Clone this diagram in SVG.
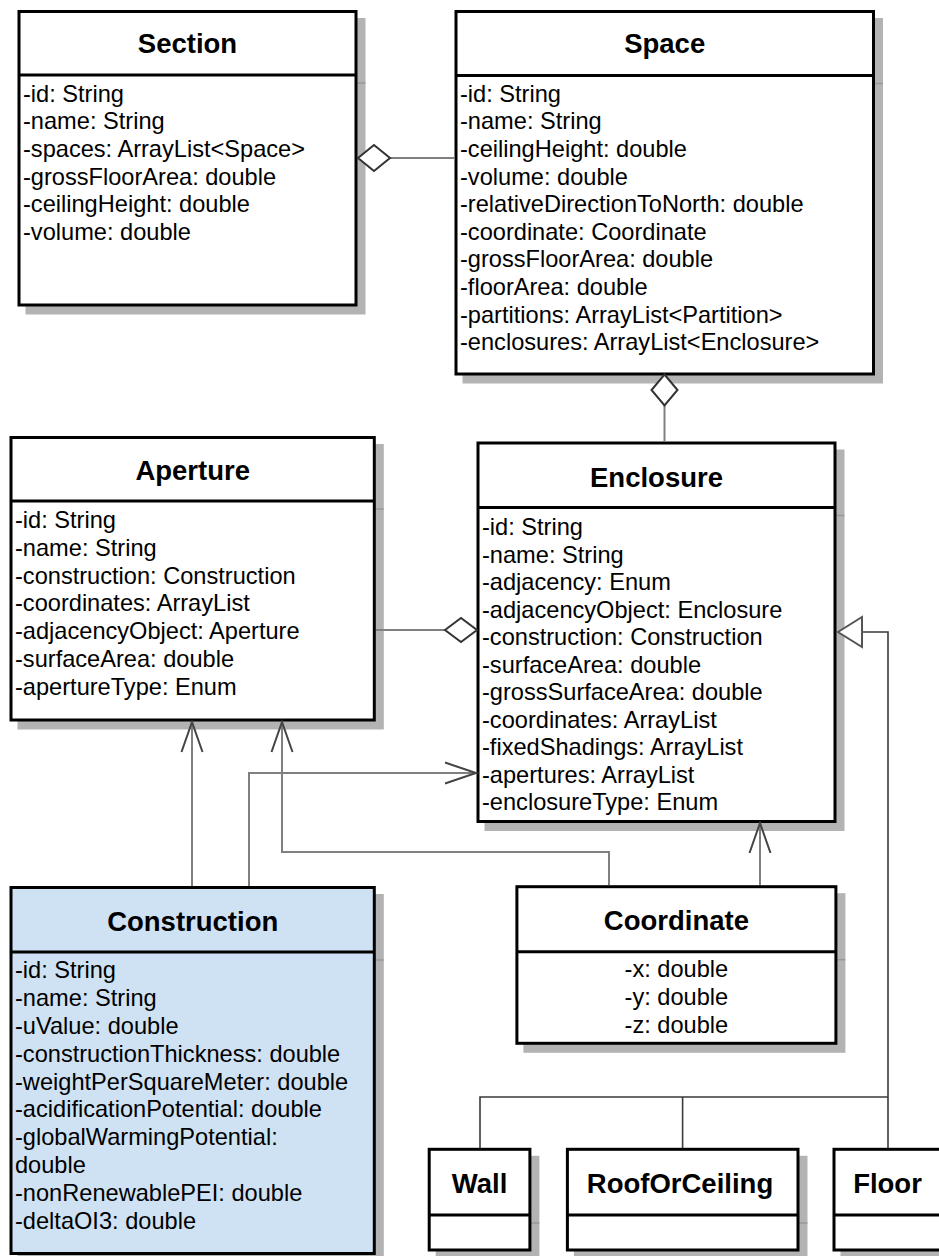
<svg xmlns="http://www.w3.org/2000/svg" width="939" height="1256" viewBox="0 0 939 1256">
  <style>
    .shadow { fill: #b3b3b3; stroke: #b3b3b3; stroke-width: 3; }
    .shline { stroke: #999999; stroke-width: 1.5; }
    .box { fill: #ffffff; stroke: #000000; stroke-width: 3; }
    .blue { fill: #cfe2f3; }
    .div { stroke: #000000; stroke-width: 3; }
    .title { font-family: "Liberation Sans", Arial, sans-serif; font-weight: bold; font-size: 27.5px; text-anchor: middle; fill: #000; }
    .attr { font-family: "Liberation Sans", Arial, sans-serif; font-size: 23.6px; fill: #000; }
    .mid { text-anchor: middle; }
    .conn { fill: none; stroke: #808080; stroke-width: 2; }
    .gen { fill: none; stroke: #3a3a3a; stroke-width: 1.6; }
    .head { fill: none; stroke: #444444; stroke-width: 2; }
    .diamond { fill: #ffffff; stroke: #333333; stroke-width: 2; }
    .tri { fill: #ffffff; stroke: #555555; stroke-width: 2; }
  </style>

  <!-- Section -->
  <g id="section">
    <rect class="shadow" x="27" y="19.5" width="337" height="293.5"/>
    <line class="shline" x1="356" y1="83" x2="365.5" y2="83"/>
    <rect class="box" x="19" y="11.5" width="337" height="293.5"/>
    <line class="div" x1="19" y1="75" x2="356" y2="75"/>
    <text class="title" x="187.5" y="53.3">Section</text>
    <text class="attr" x="23" y="101.5">-id: String</text>
    <text class="attr" x="23" y="129.2">-name: String</text>
    <text class="attr" x="23" y="156.9">-spaces: ArrayList&lt;Space&gt;</text>
    <text class="attr" x="23" y="184.6">-grossFloorArea: double</text>
    <text class="attr" x="23" y="212.3">-ceilingHeight: double</text>
    <text class="attr" x="23" y="240">-volume: double</text>
  </g>

  <!-- Space -->
  <g id="space">
    <rect class="shadow" x="464" y="19.5" width="417.5" height="362.5"/>
    <line class="shline" x1="873.5" y1="83.5" x2="883" y2="83.5"/>
    <rect class="box" x="456" y="11.5" width="417.5" height="362.5"/>
    <line class="div" x1="456" y1="75.5" x2="873.5" y2="75.5"/>
    <text class="title" x="664.7" y="53.3">Space</text>
    <text class="attr" x="460" y="101.7">-id: String</text>
    <text class="attr" x="460" y="129.3">-name: String</text>
    <text class="attr" x="460" y="156.9">-ceilingHeight: double</text>
    <text class="attr" x="460" y="184.5">-volume: double</text>
    <text class="attr" x="460" y="212.1">-relativeDirectionToNorth: double</text>
    <text class="attr" x="460" y="239.7">-coordinate: Coordinate</text>
    <text class="attr" x="460" y="267.3">-grossFloorArea: double</text>
    <text class="attr" x="460" y="294.9">-floorArea: double</text>
    <text class="attr" x="460" y="322.5">-partitions: ArrayList&lt;Partition&gt;</text>
    <text class="attr" x="460" y="350.1">-enclosures: ArrayList&lt;Enclosure&gt;</text>
  </g>

  <!-- Aperture -->
  <g id="aperture">
    <rect class="shadow" x="19" y="445.5" width="363.3" height="282.5"/>
    <line class="shline" x1="374.3" y1="509" x2="383.8" y2="509"/>
    <rect class="box" x="11" y="437.5" width="363.3" height="282.5"/>
    <line class="div" x1="11" y1="501" x2="374.3" y2="501"/>
    <text class="title" x="192.7" y="480">Aperture</text>
    <text class="attr" x="15" y="528.3">-id: String</text>
    <text class="attr" x="15" y="556">-name: String</text>
    <text class="attr" x="15" y="583.7">-construction: Construction</text>
    <text class="attr" x="15" y="611.4">-coordinates: ArrayList</text>
    <text class="attr" x="15" y="639.1">-adjacencyObject: Aperture</text>
    <text class="attr" x="15" y="666.8">-surfaceArea: double</text>
    <text class="attr" x="15" y="694.5">-apertureType: Enum</text>
  </g>

  <!-- Enclosure -->
  <g id="enclosure">
    <rect class="shadow" x="486" y="451" width="357" height="378.5"/>
    <line class="shline" x1="835" y1="515.5" x2="844.5" y2="515.5"/>
    <rect class="box" x="478" y="443" width="357" height="378.5"/>
    <line class="div" x1="478" y1="507.5" x2="835" y2="507.5"/>
    <text class="title" x="656.5" y="486.7">Enclosure</text>
    <text class="attr" x="482" y="535">-id: String</text>
    <text class="attr" x="482" y="562.5">-name: String</text>
    <text class="attr" x="482" y="590">-adjacency: Enum</text>
    <text class="attr" x="482" y="617.5">-adjacencyObject: Enclosure</text>
    <text class="attr" x="482" y="645">-construction: Construction</text>
    <text class="attr" x="482" y="672.5">-surfaceArea: double</text>
    <text class="attr" x="482" y="700">-grossSurfaceArea: double</text>
    <text class="attr" x="482" y="727.5">-coordinates: ArrayList</text>
    <text class="attr" x="482" y="755">-fixedShadings: ArrayList</text>
    <text class="attr" x="482" y="782.5">-apertures: ArrayList</text>
    <text class="attr" x="482" y="810">-enclosureType: Enum</text>
  </g>

  <!-- Construction -->
  <g id="construction">
    <rect class="shadow" x="19" y="895.5" width="363.3" height="366"/>
    <line class="shline" x1="374.3" y1="960" x2="383.8" y2="960"/>
    <rect class="box blue" x="11" y="887.5" width="363.3" height="366"/>
    <line class="div" x1="11" y1="952" x2="374.3" y2="952"/>
    <text class="title" x="192.7" y="930.7">Construction</text>
    <text class="attr" x="15" y="978.3">-id: String</text>
    <text class="attr" x="15" y="1006.1">-name: String</text>
    <text class="attr" x="15" y="1033.9">-uValue: double</text>
    <text class="attr" x="15" y="1061.7">-constructionThickness: double</text>
    <text class="attr" x="15" y="1089.5">-weightPerSquareMeter: double</text>
    <text class="attr" x="15" y="1117.3">-acidificationPotential: double</text>
    <text class="attr" x="15" y="1145.1">-globalWarmingPotential:</text>
    <text class="attr" x="15" y="1172.9">double</text>
    <text class="attr" x="15" y="1200.7">-nonRenewablePEI: double</text>
    <text class="attr" x="15" y="1228.5">-deltaOI3: double</text>
  </g>

  <!-- Coordinate -->
  <g id="coordinate">
    <rect class="shadow" x="524.9" y="894.7" width="319" height="156.6"/>
    <line class="shline" x1="835.9" y1="959.7" x2="845.4" y2="959.7"/>
    <rect class="box" x="516.9" y="886.7" width="319" height="156.6"/>
    <line class="div" x1="516.9" y1="951.7" x2="835.9" y2="951.7"/>
    <text class="title" x="676.4" y="930">Coordinate</text>
    <text class="attr mid" x="676.4" y="977.3">-x: double</text>
    <text class="attr mid" x="676.4" y="1005">-y: double</text>
    <text class="attr mid" x="676.4" y="1032.7">-z: double</text>
  </g>

  <!-- Wall -->
  <g id="wall">
    <rect class="shadow" x="437.2" y="1157.3" width="100.7" height="100.7"/>
    <line class="shline" x1="529.9" y1="1223" x2="539.4" y2="1223"/>
    <rect class="box" x="429.2" y="1149.3" width="100.7" height="100.7"/>
    <line class="div" x1="429.2" y1="1215" x2="529.9" y2="1215"/>
    <text class="title" x="479.6" y="1193.3">Wall</text>
  </g>

  <!-- RoofOrCeiling -->
  <g id="roofOrCeiling">
    <rect class="shadow" x="575.4" y="1157.3" width="230.6" height="100.7"/>
    <line class="shline" x1="798" y1="1223" x2="807.5" y2="1223"/>
    <rect class="box" x="567.4" y="1149.3" width="230.6" height="100.7"/>
    <line class="div" x1="567.4" y1="1215" x2="798" y2="1215"/>
    <text class="title" x="680" y="1193.3">RoofOrCeiling</text>
  </g>

  <!-- Floor -->
  <g id="floor">
    <rect class="shadow" x="842" y="1157.3" width="107" height="100.7"/>
    <rect class="box" x="834" y="1149.3" width="107" height="100.7"/>
    <line class="div" x1="834" y1="1215" x2="941" y2="1215"/>
    <text class="title" x="887.5" y="1193.3">Floor</text>
  </g>

  <!-- connectors, drawn over the node shadows -->
  <g id="connectors">
    <!-- Section <>— Space -->
    <path class="conn" d="M390 158 H455"/>
    <path class="diamond" d="M358 158 L374 145 L390 158 L374 171 Z"/>
    <!-- Space <>— Enclosure -->
    <path class="conn" d="M664.5 405 V442"/>
    <path class="diamond" d="M664.5 374.5 L677.5 390 L664.5 405.5 L651.5 390 Z"/>
    <!-- Aperture —<> Enclosure -->
    <path class="conn" d="M376 630 H445"/>
    <path class="diamond" d="M445 630 L461 618 L477 630 L461 642 Z"/>
    <!-- Construction -> Aperture -->
    <path class="conn" d="M192 886 V722"/>
    <path class="head" d="M181.5 752 L192 722 L202.5 752"/>
    <!-- Construction -> Enclosure -->
    <path class="conn" d="M249 886 V773 H476"/>
    <path class="head" d="M445 762.5 L476 773 L445 783.5"/>
    <!-- Coordinate -> Aperture -->
    <path class="conn" d="M609 885 V852 H282 V722"/>
    <path class="head" d="M271.5 752 L282 722 L292.5 752"/>
    <!-- Coordinate -> Enclosure -->
    <path class="conn" d="M760 885 V823"/>
    <path class="head" d="M749.5 853 L760 823 L770.5 853"/>
    <!-- generalization: Wall, RoofOrCeiling, Floor -> Enclosure -->
    <path class="gen" d="M480 1148 V1097 H888"/>
    <path class="gen" d="M682.6 1097 V1148"/>
    <path class="gen" d="M888 1148 V632 H862"/>
    <path class="tri" d="M838 632 L862 617 L862 647 Z"/>
  </g>
</svg>
